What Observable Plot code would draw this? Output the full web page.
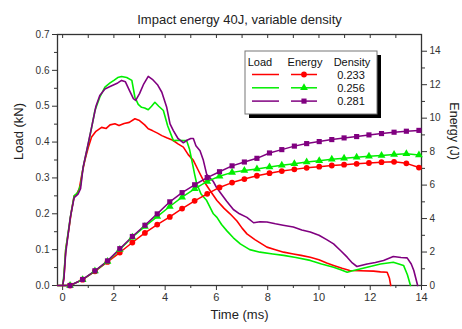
<!DOCTYPE html>
<html><head><meta charset="utf-8">
<script src="https://cdn.jsdelivr.net/npm/d3@7"></script>
<script src="https://cdn.jsdelivr.net/npm/@observablehq/plot@0.6"></script>
<style>body{margin:0;background:#fff;font-family:"Liberation Sans",Arial,sans-serif}</style>
</head><body><div id="chart"></div><script>
const densities = ["0.233", "0.256", "0.281"];
const colors = ["#ff0000", "#00ee00", "#800080"];
const symbols = ["circle", "triangle", "square"];

// Load curves (time ms, load kN)
const loadTime233 = [-0.2,0,0.05,0.12,0.25,0.35,0.45,0.55,0.65,0.75,0.87,1.0,1.13,1.3,1.52,1.7,1.85,2.04,2.2,2.4,2.6,2.82,3.0,3.2,3.34,3.5,3.7,3.87,4.06,4.3,4.5,4.71,4.9,5.1,5.3,5.49,5.75,6.02,6.3,6.53,6.8,7.0,7.19,7.5,7.97,8.3,8.62,9.0,9.3,9.66,10.0,10.3,10.57,10.9,11.2,11.6,12.13,12.4,12.66,12.75,12.8];
const load233 = [0,0,0.02,0.1,0.16,0.21,0.25,0.255,0.27,0.31,0.35,0.385,0.414,0.43,0.441,0.438,0.448,0.451,0.446,0.452,0.455,0.465,0.46,0.448,0.437,0.432,0.425,0.418,0.412,0.405,0.395,0.386,0.365,0.349,0.32,0.293,0.265,0.237,0.215,0.2,0.18,0.16,0.144,0.128,0.107,0.1,0.093,0.088,0.084,0.079,0.072,0.063,0.056,0.048,0.042,0.041,0.04,0.038,0.037,0.02,0];
const loadTime256 = [-0.2,0,0.05,0.12,0.3,0.45,0.6,0.7,0.8,1.0,1.13,1.26,1.45,1.65,1.85,2.0,2.15,2.3,2.5,2.7,2.82,2.95,3.08,3.2,3.34,3.47,3.6,3.75,3.93,4.1,4.32,4.5,4.71,4.84,4.95,5.04,5.15,5.23,5.4,5.62,5.88,6.02,6.2,6.4,6.66,6.93,7.3,7.7,8.2,8.62,9.1,9.66,10.1,10.57,10.85,11.1,11.35,11.6,12.0,12.4,12.9,13.3,13.45,13.57];
const load256 = [0,0,0.03,0.1,0.19,0.25,0.26,0.28,0.33,0.395,0.44,0.488,0.525,0.553,0.565,0.572,0.58,0.583,0.58,0.572,0.525,0.505,0.497,0.495,0.49,0.5,0.511,0.5,0.488,0.445,0.404,0.405,0.404,0.404,0.38,0.349,0.31,0.284,0.255,0.237,0.2,0.19,0.17,0.153,0.133,0.116,0.1,0.093,0.088,0.084,0.078,0.07,0.06,0.051,0.044,0.037,0.042,0.046,0.053,0.06,0.065,0.056,0.03,0];
const loadTime281 = [-0.2,0,0.05,0.12,0.3,0.45,0.6,0.7,0.8,0.95,1.13,1.3,1.45,1.65,1.85,2.0,2.15,2.3,2.45,2.6,2.76,2.85,3.0,3.15,3.34,3.5,3.7,3.87,4.06,4.19,4.32,4.5,4.71,4.85,5.0,5.1,5.2,5.36,5.49,5.62,5.88,6.0,6.14,6.4,6.66,6.9,7.19,7.45,7.7,7.97,8.3,8.6,9.0,9.33,9.66,10.0,10.3,10.57,10.85,11.1,11.3,11.48,11.88,12.2,12.52,12.9,13.2,13.44,13.6,13.7,13.85];
const load281 = [0,0,0.02,0.09,0.19,0.245,0.255,0.27,0.33,0.38,0.441,0.5,0.53,0.548,0.555,0.56,0.565,0.572,0.568,0.545,0.521,0.516,0.535,0.56,0.583,0.575,0.56,0.539,0.497,0.451,0.432,0.41,0.398,0.405,0.41,0.41,0.39,0.376,0.349,0.31,0.29,0.274,0.26,0.235,0.212,0.2,0.19,0.175,0.178,0.177,0.172,0.168,0.163,0.155,0.149,0.14,0.128,0.116,0.097,0.079,0.063,0.053,0.06,0.064,0.07,0.081,0.078,0.077,0.06,0.042,0];

// Energy curves (time ms, energy J) at marker positions
const energyTime = [0.29,0.78,1.26,1.75,2.23,2.72,3.21,3.69,4.18,4.66,5.15,5.64,6.12,6.61,7.09,7.58,8.07,8.55,9.04,9.52,10.01,10.5,10.98,11.47,11.95,12.44,12.93,13.41,13.9];
const energy233 = [0,0.35,0.85,1.41,1.97,2.57,3.14,3.64,4.1,4.6,5.06,5.48,5.86,6.15,6.36,6.56,6.71,6.84,6.94,7.03,7.1,7.17,7.22,7.27,7.32,7.37,7.39,7.3,7.05];
const energy256 = [0,0.35,0.86,1.44,2.15,2.88,3.53,4.12,4.72,5.28,5.78,6.22,6.53,6.76,6.87,6.96,7.08,7.18,7.28,7.38,7.46,7.54,7.6,7.66,7.72,7.77,7.83,7.87,7.8];
const energy281 = [0,0.36,0.88,1.47,2.2,2.93,3.6,4.28,5.0,5.55,6.02,6.45,6.8,7.15,7.38,7.6,7.92,8.12,8.33,8.48,8.6,8.72,8.82,8.9,9.0,9.08,9.16,9.22,9.27];

const xTicks = [0,2,4,6,8,10,12,14];
const xMinorTicks = [1,3,5,7,9,11,13];
const topTicks = [0,1,2,3,4,5,6,7,8,9,10,11,12,13,14];
const loadTicks = [0,0.1,0.2,0.3,0.4,0.5,0.6,0.7];
const loadMinorTicks = [0.05,0.15,0.25,0.35,0.45,0.55,0.65];
const energyTicks = [0,2,4,6,8,10,12,14];
const energyMinorTicks = [1,3,5,7,9,11,13];
const loadMax = 0.7, energyMax = 15;
const k = loadMax / energyMax;

const loadData = [
  ...loadTime233.map((t,i)=>({t, v:load233[i], d:"0.233"})),
  ...loadTime256.map((t,i)=>({t, v:load256[i], d:"0.256"})),
  ...loadTime281.map((t,i)=>({t, v:load281[i], d:"0.281"}))
];
const energySeries = [["0.233", energy233], ["0.256", energy256], ["0.281", energy281]];
const energyPoints = energySeries.flatMap(([d, arr]) => energyTime.map((t,i)=>({t, e:arr[i], d})));
const energyLine = energySeries.flatMap(([d, arr]) => [{t:0, e:0, d}, ...energyTime.map((t,i)=>({t, e:arr[i], d}))]);

const axisColor = "#333";
const W = 462, H = 329, mL = 57, mR = 41, mT = 34, mB = 44;
const chart = Plot.plot({
  width: W, height: H,
  marginLeft: mL, marginRight: mR, marginTop: mT, marginBottom: mB,
  style: {fontFamily: '"Liberation Sans", Arial, sans-serif', fontSize: "10px", color: axisColor, background: "#fff"},
  x: {domain: [-0.2, 14]},
  y: {domain: [0, loadMax]},
  color: {domain: densities, range: colors},
  symbol: {domain: densities, range: symbols},
  marks: [
    Plot.axisX({ticks: xTicks, tickSize: 5, tickPadding: 3, label: null, fontSize: 11}),
    Plot.axisX({ticks: xMinorTicks, tickSize: 3, tickFormat: () => "", label: null}),
    Plot.tickX(topTicks, {x: d => d, stroke: axisColor, insetBottom: H - mT - mB - 4}),
    Plot.axisY({ticks: loadTicks, tickSize: 5, tickPadding: 3, tickFormat: d3.format(".1f"), label: null}),
    Plot.axisY({ticks: loadMinorTicks, tickSize: 3, tickFormat: () => "", label: null}),
    Plot.axisY({anchor: "right", ticks: energyTicks.map(e => e * k), tickSize: 5, tickPadding: 3,
      tickFormat: v => String(Math.round(v / k)), label: null}),
    Plot.axisY({anchor: "right", ticks: energyMinorTicks.map(e => e * k), tickSize: 3, tickFormat: () => "", label: null}),
    Plot.frame({stroke: axisColor, strokeWidth: 1.3}),
    Plot.line(loadData, {x: "t", y: "v", z: "d", stroke: "d", strokeWidth: 1.6}),
    Plot.line(energyLine, {x: "t", y: d => d.e * k, z: "d", stroke: "d", strokeWidth: 1.5}),
    Plot.dot(energyPoints, {x: "t", y: d => d.e * k, fill: "d", symbol: "d", r: 2.9, stroke: "none"}),
    Plot.text(["Impact energy 40J, variable density"], {frameAnchor: "top", dy: -20, fontSize: 13, fill: "#222"}),
    Plot.text(["Time (ms)"], {frameAnchor: "bottom", dy: 33, fontSize: 13, fill: "#222"}),
    Plot.text(["Load (kN)"], {frameAnchor: "left", dx: -39, rotate: -90, fontSize: 13, fill: "#222"}),
    Plot.text(["Energy (J)"], {frameAnchor: "right", dx: 32, rotate: 90, fontSize: 12.5, fill: "#222"})
  ]
});
document.getElementById("chart").append(chart);

// Legend overlay
const svg = d3.select(chart);
const lg = svg.append("g").attr("font-family", '"Liberation Sans", Arial, sans-serif').attr("font-size", 11).attr("fill", "#111");
lg.append("rect").attr("x", 249).attr("y", 55).attr("width", 132).attr("height", 63).attr("fill", "#000");
lg.append("rect").attr("x", 245).attr("y", 51).attr("width", 132).attr("height", 63).attr("fill", "#fff").attr("stroke", "#777").attr("stroke-width", 1);
lg.append("text").attr("x", 260).attr("y", 65.5).attr("text-anchor", "middle").text("Load");
lg.append("text").attr("x", 305).attr("y", 65.5).attr("text-anchor", "middle").text("Energy");
lg.append("text").attr("x", 352).attr("y", 65.5).attr("text-anchor", "middle").text("Density");
const symGen = {circle: d3.symbolCircle, triangle: d3.symbolTriangle, square: d3.symbolSquare};
densities.forEach((d, i) => {
  const y = 74.5 + i * 13.3;
  lg.append("line").attr("x1", 252).attr("x2", 279).attr("y1", y).attr("y2", y).attr("stroke", colors[i]).attr("stroke-width", 1.5);
  lg.append("line").attr("x1", 291).attr("x2", 317).attr("y1", y).attr("y2", y).attr("stroke", colors[i]).attr("stroke-width", 1.5);
  lg.append("path").attr("transform", `translate(304,${y})`).attr("d", d3.symbol(symGen[symbols[i]], Math.PI * 2.9 * 2.9)()).attr("fill", colors[i]);
  lg.append("text").attr("x", 351).attr("y", y + 4).attr("text-anchor", "middle").text(d);
});
</script></body></html>
